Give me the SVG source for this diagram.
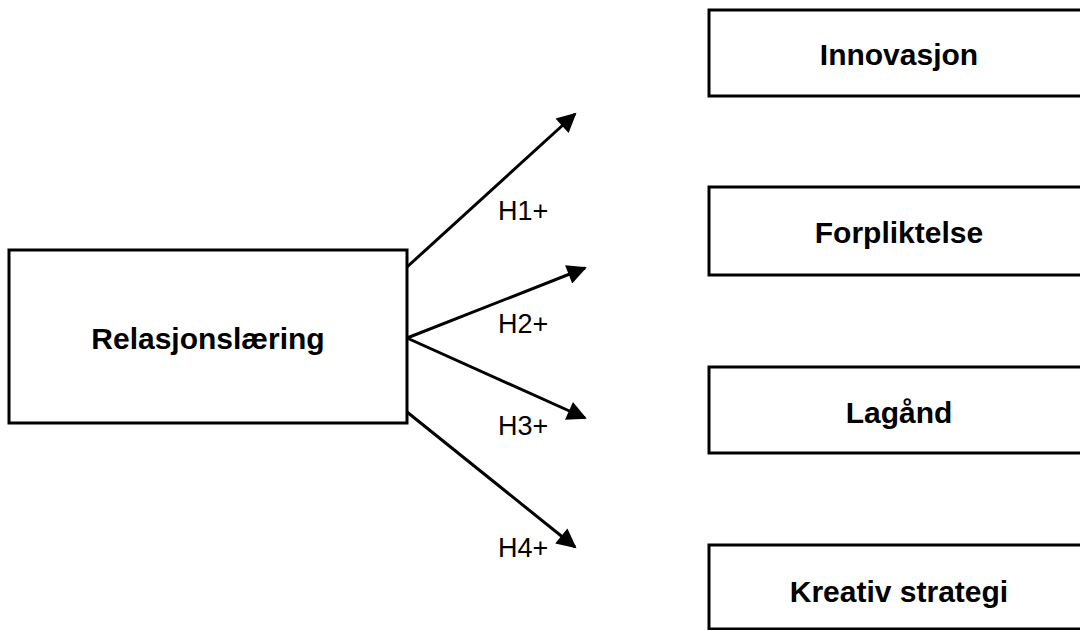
<svg xmlns="http://www.w3.org/2000/svg" width="1080" height="630" viewBox="0 0 1080 630">
<style>
.box{fill:#fff;stroke:#000;stroke-width:3}
.lbl{font-family:"Liberation Sans",Arial,sans-serif;font-weight:bold;font-size:30px;fill:#000;text-anchor:middle}
.h{font-family:"Liberation Sans",Arial,sans-serif;font-size:27px;fill:#000}
.conn{stroke:#000;stroke-width:3;fill:none}
</style>
<defs>
<marker id="arr" viewBox="0 0 10 10" refX="9" refY="5" markerWidth="9" markerHeight="6.5" markerUnits="strokeWidth" orient="auto">
<path d="M0,0 L10,5 L0,10 z" fill="#000"/>
</marker>
</defs>
<rect width="1080" height="630" fill="#fff"/>
<g id="connectors">
<line class="conn" x1="407" y1="267" x2="575" y2="114" marker-end="url(#arr)"/>
<line class="conn" x1="407" y1="338" x2="585" y2="268" marker-end="url(#arr)"/>
<line class="conn" x1="407" y1="338" x2="585" y2="418" marker-end="url(#arr)"/>
<line class="conn" x1="407" y1="412" x2="575" y2="547" marker-end="url(#arr)"/>
<text class="h" x="498" y="220">H1+</text>
<text class="h" x="498" y="333">H2+</text>
<text class="h" x="498" y="435">H3+</text>
<text class="h" x="498" y="557">H4+</text>
</g>
<g id="relasjonslaering">
<rect class="box" x="9" y="250" width="398" height="173"/>
<text class="lbl" x="208" y="349">Relasjonslæring</text>
</g>
<g id="innovasjon">
<rect class="box" x="709" y="10" width="380" height="86"/>
<text class="lbl" x="899" y="65">Innovasjon</text>
</g>
<g id="forpliktelse">
<rect class="box" x="709" y="187" width="380" height="88"/>
<text class="lbl" x="899" y="243">Forpliktelse</text>
</g>
<g id="lagaand">
<rect class="box" x="709" y="367" width="380" height="86"/>
<text class="lbl" x="899" y="423">Lagånd</text>
</g>
<g id="kreativ-strategi">
<rect class="box" x="709" y="545" width="380" height="84"/>
<text class="lbl" x="899" y="602">Kreativ strategi</text>
</g>
</svg>
